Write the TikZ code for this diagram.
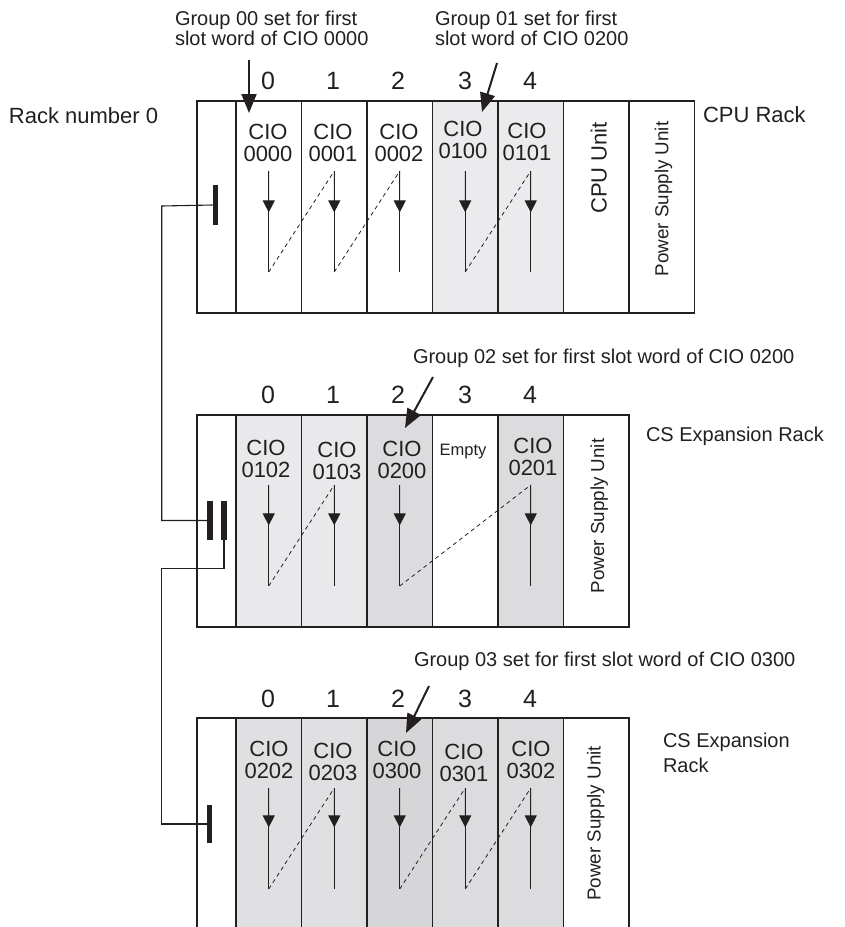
\documentclass[tikz,border=0pt]{standalone}
\usepackage{fontspec}
\setmainfont{Liberation Sans}
\usetikzlibrary{arrows.meta,calc}
\definecolor{ink}{RGB}{35,31,32}
\definecolor{grayA}{RGB}{235,235,237}
\definecolor{grayB}{RGB}{233,233,235}
\definecolor{grayC}{RGB}{220,220,222}
\definecolor{grayD}{RGB}{224,224,226}
\definecolor{grayE}{RGB}{214,214,216}
\begin{document}
\begin{tikzpicture}[x=1pt,y=-1pt,
  every node/.style={inner sep=0pt, outer sep=0pt, text=ink},
  cio/.style={align=center, font=\fontsize{22}{22}\selectfont},
  num/.style={font=\fontsize{25}{25}\selectfont},
  psu/.style={rotate=90, anchor=base, font=\fontsize{18.8}{18.8}\selectfont},
  cpu/.style={rotate=90, anchor=base, font=\fontsize{22}{22}\selectfont},
  grp/.style={align=left, font=\fontsize{20}{20.5}\selectfont},
  grpone/.style={font=\fontsize{20}{20}\selectfont},
  racklbl/.style={font=\fontsize{22}{22}\selectfont},
  outline/.style={draw=ink, line width=1.1pt},
  divider/.style={draw=ink, line width=1.8pt},
  thindiv/.style={draw=ink, line width=1.2pt},
  slotline/.style={draw=ink, line width=0.9pt},
  midtip/.style={draw=ink, line width=0.9pt, -{Triangle[length=12pt,width=12pt]}},
  chain/.style={draw=ink, line width=0.8pt, dash pattern=on 4pt off 3.5pt},
  bar/.style={fill=ink, draw=none, minimum width=5.5pt},
  cable/.style={draw=ink, line width=1.1pt},
  pointer/.style={draw=ink, line width=2pt, -{Triangle[length=19pt,width=15pt]}},
]
\useasboundingbox (0,0) rectangle (844,927);
\clip (0,0) rectangle (844,927);

% ---------- fills ----------
\fill[grayA] (432.5,101) rectangle (563.5,313);
\fill[grayB] (236,415) rectangle (367,627);
\fill[grayC] (367,415) rectangle (432.5,627);
\fill[grayC] (498,415) rectangle (563.5,627);
\fill[grayD] (236,718) rectangle (367,950);
\fill[grayE] (367,718) rectangle (432.5,950);
\fill[grayC] (432.5,718) rectangle (563.5,950);

% ---------- rack frames ----------
\draw[outline] (197,101) rectangle (694.5,313);
\draw[outline] (197,415) rectangle (629,627);
\draw[outline] (197,718) rectangle (629,950);
\foreach \i in {0,...,5} {
  \draw[divider] ({236+65.5*\i},101) -- ({236+65.5*\i},313);
}
\draw[thindiv] (629,101) -- (629,313);
\foreach \i in {0,...,5} {
  \draw[divider] ({236+65.5*\i},415) -- ({236+65.5*\i},627);
  \draw[divider] ({236+65.5*\i},718) -- ({236+65.5*\i},950);
}

% ---------- slot word arrows ----------
\foreach \r/\T in {T/101,M/415,B/718} {
  \foreach \i in {0,...,4} {
    \coordinate (\r-t-\i) at ({268.75+65.5*\i},\T+70);
    \coordinate (\r-b-\i) at ({268.75+65.5*\i},\T+171);
  }
}
\foreach \i in {0,1,2,3,4} {
  \draw[slotline] (T-t-\i) -- (T-b-\i);
  \draw[midtip] (T-t-\i) -- ($(T-t-\i)!0.41!(T-b-\i)$);
  \draw[slotline] (B-t-\i) -- (B-b-\i);
  \draw[midtip] (B-t-\i) -- ($(B-t-\i)!0.39!(B-b-\i)$);
}
\foreach \i in {0,1,2,4} {
  \draw[slotline] (M-t-\i) -- (M-b-\i);
  \draw[midtip] (M-t-\i) -- ($(M-t-\i)!0.40!(M-b-\i)$);
}
\foreach \a/\b in {0/1,1/2,3/4} \draw[chain] (T-b-\a) -- (T-t-\b);
\foreach \a/\b in {0/1,2/4} \draw[chain] (M-b-\a) -- (M-t-\b);
\foreach \a/\b in {0/1,2/3,3/4} \draw[chain] (B-b-\a) -- (B-t-\b);

% ---------- slot numbers ----------
\foreach \i/\x in {0/268,1/333,2/398,3/465,4/530} {
  \node[num] (nT\i) at (\x,80.5) {\i};
  \node[num] (nM\i) at (\x,395) {\i};
  \node[num] (nB\i) at (\x,698.5) {\i};
}

% ---------- CIO labels ----------
\node[cio] (cT0) at (268,142.5) {CIO\\0000};
\node[cio] (cT1) at (333,142.5) {CIO\\0001};
\node[cio] (cT2) at (399,142.5) {CIO\\0002};
\node[cio] (cT3) at (463,140) {CIO\\0100};
\node[cio] (cT4) at (527,142) {CIO\\0101};
\node[cio] (cM0) at (266,459) {CIO\\0102};
\node[cio] (cM1) at (337,461) {CIO\\0103};
\node[cio] (cM2) at (402,460) {CIO\\0200};
\node[font=\fontsize{16.5}{16.5}\selectfont] (empty) at (463,452) {Empty};
\node[cio] (cM4) at (533,457) {CIO\\0201};
\node[cio] (cB0) at (269,760) {CIO\\0202};
\node[cio] (cB1) at (333,762) {CIO\\0203};
\node[cio] (cB2) at (397,760) {CIO\\0300};
\node[cio] (cB3) at (464,763) {CIO\\0301};
\node[cio] (cB4) at (531,760) {CIO\\0302};

% ---------- unit labels ----------
\node[cpu] (cpuunit) at (606.7,168) {CPU Unit};
\node[psu] (psuT) at (668.3,199) {Power Supply Unit};
\node[psu] (psuM) at (604,516) {Power Supply Unit};
\node[psu] (psuB) at (600.7,823.3) {Power Supply Unit};

% ---------- rack labels ----------
\node[racklbl, anchor=base west] (rack0) at (9,123.3) {Rack number 0};
\node[racklbl, anchor=base west] (cpurack) at (703,122.7) {CPU Rack};
\node[grpone, anchor=base west] (csrack1) at (646,441) {CS Expansion Rack};
\node[grp, align=left, font=\fontsize{20}{25.4}\selectfont, anchor=north west] (csrack2) at (663,732.5) {CS Expansion\\Rack};

% ---------- group annotations ----------
\node[grp, anchor=north west] (g00) at (175,11) {Group 00 set for first\\slot word of CIO 0000};
\node[grp, anchor=north west] (g01) at (435,11) {Group 01 set for first\\slot word of CIO 0200};
\node[grpone, anchor=base west] (g02) at (413,363.3) {Group 02 set for first slot word of CIO 0200};
\node[grpone, anchor=base west] (g03) at (414,666.7) {Group 03 set for first slot word of CIO 0300};

\coordinate (p0s) at (249,60);  \coordinate (p0e) at (249,113);
\coordinate (p1s) at (497,63);  \coordinate (p1e) at (482,112);
\coordinate (p2s) at (433,377); \coordinate (p2e) at (405,428);
\coordinate (p3s) at (429,686); \coordinate (p3e) at (406,733);
\draw[pointer] (p0s) -- (p0e);
\draw[pointer] (p1s) -- (p1e);
\draw[pointer] (p2s) -- (p2e);
\draw[pointer] (p3s) -- (p3e);

% ---------- connecting cables ----------
\node[bar, minimum height=40pt] (barT) at (215.3,205) {};
\node[bar, minimum height=39pt] (barM1) at (210,520.5) {};
\node[bar, minimum height=39pt] (barM2) at (224,520.5) {};
\node[bar, minimum height=38pt] (barB) at (209.7,824) {};
\coordinate (rail) at (161.7,206);
\coordinate (kink) at (161.7,568.3);
\draw[cable] (barT.west) -- (rail) |- (barM1.west);
\draw[cable] (barM2.south) |- (kink) |- (barB.west);
\end{tikzpicture}
\end{document}
